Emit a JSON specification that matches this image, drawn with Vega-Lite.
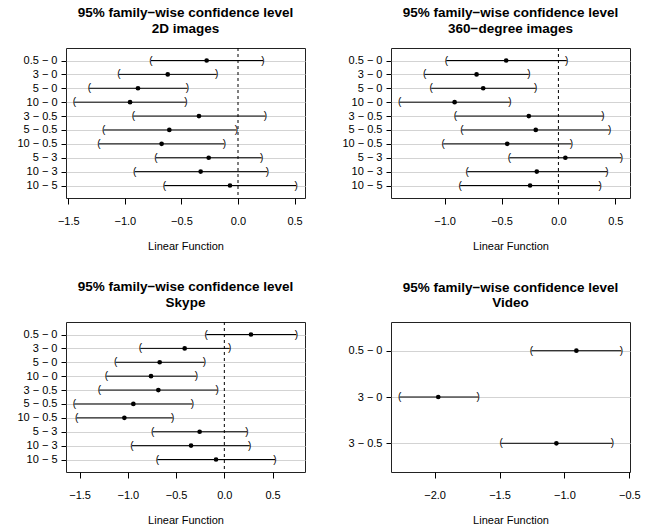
{
  "$schema": "https://vega.github.io/schema/vega-lite/v6.json",
  "padding": {"left": 16, "top": 5, "right": 5, "bottom": 5},
  "background": "white",
  "datasets": {
    "img2d": [
      {"comparison": "0.5 − 0", "diff": -0.277, "lwr": -0.769, "upr": 0.221},
      {"comparison": "3 − 0", "diff": -0.621, "lwr": -1.052, "upr": -0.189},
      {"comparison": "5 − 0", "diff": -0.884, "lwr": -1.314, "upr": -0.448},
      {"comparison": "10 − 0", "diff": -0.954, "lwr": -1.446, "upr": -0.460},
      {"comparison": "3 − 0.5", "diff": -0.345, "lwr": -0.925, "upr": 0.242},
      {"comparison": "5 − 0.5", "diff": -0.607, "lwr": -1.187, "upr": -0.015},
      {"comparison": "10 − 0.5", "diff": -0.675, "lwr": -1.228, "upr": -0.121},
      {"comparison": "5 − 3", "diff": -0.259, "lwr": -0.725, "upr": 0.209},
      {"comparison": "10 − 3", "diff": -0.330, "lwr": -0.913, "upr": 0.259},
      {"comparison": "10 − 5", "diff": -0.071, "lwr": -0.651, "upr": 0.513}
    ],
    "img360": [
      {"comparison": "0.5 − 0", "diff": -0.459, "lwr": -0.985, "upr": 0.073},
      {"comparison": "3 − 0", "diff": -0.719, "lwr": -1.175, "upr": -0.260},
      {"comparison": "5 − 0", "diff": -0.661, "lwr": -1.117, "upr": -0.199},
      {"comparison": "10 − 0", "diff": -0.912, "lwr": -1.395, "upr": -0.427},
      {"comparison": "3 − 0.5", "diff": -0.260, "lwr": -0.906, "upr": 0.392},
      {"comparison": "5 − 0.5", "diff": -0.199, "lwr": -0.848, "upr": 0.450},
      {"comparison": "10 − 0.5", "diff": -0.450, "lwr": -1.012, "upr": 0.114},
      {"comparison": "5 − 3", "diff": 0.061, "lwr": -0.430, "upr": 0.553},
      {"comparison": "10 − 3", "diff": -0.190, "lwr": -0.801, "upr": 0.427},
      {"comparison": "10 − 5", "diff": -0.249, "lwr": -0.863, "upr": 0.368}
    ],
    "skype": [
      {"comparison": "0.5 − 0", "diff": 0.276, "lwr": -0.187, "upr": 0.746},
      {"comparison": "3 − 0", "diff": -0.411, "lwr": -0.870, "upr": 0.055},
      {"comparison": "5 − 0", "diff": -0.670, "lwr": -1.126, "upr": -0.207},
      {"comparison": "10 − 0", "diff": -0.760, "lwr": -1.223, "upr": -0.290},
      {"comparison": "3 − 0.5", "diff": -0.684, "lwr": -1.295, "upr": -0.073},
      {"comparison": "5 − 0.5", "diff": -0.943, "lwr": -1.554, "upr": -0.332},
      {"comparison": "10 − 0.5", "diff": -1.036, "lwr": -1.530, "upr": -0.535},
      {"comparison": "5 − 3", "diff": -0.256, "lwr": -0.743, "upr": 0.235},
      {"comparison": "10 − 3", "diff": -0.345, "lwr": -0.957, "upr": 0.263},
      {"comparison": "10 − 5", "diff": -0.086, "lwr": -0.694, "upr": 0.525}
    ],
    "video": [
      {"comparison": "0.5 − 0", "diff": -0.908, "lwr": -1.254, "upr": -0.562},
      {"comparison": "3 − 0", "diff": -1.972, "lwr": -2.269, "upr": -1.664},
      {"comparison": "3 − 0.5", "diff": -1.062, "lwr": -1.487, "upr": -0.631}
    ],
    "zero": [{"ref": 0}]
  },
  "columns": 2,
  "spacing": {"column": 35, "row": 27},
  "concat": [
    {
      "width": 239, "height": 150,
      "title": {"text": ["95% family−wise confidence level", "2D images"]},
      "layer": [
        {
          "data": {"name": "img2d"},
          "mark": {"type": "rule", "color": "black", "strokeWidth": 1},
          "encoding": {
            "y": {"field": "comparison", "type": "nominal", "sort": null, "scale": {"type": "point", "padding": 0.9}, "title": null},
            "x": {"field": "lwr", "type": "quantitative", "scale": {"domain": [-1.52, 0.592], "nice": false, "zero": false}, "axis": {"values": [-1.5, -1.0, -0.5, 0.0, 0.5], "format": ".1f"}, "title": "Linear Function"},
            "x2": {"field": "upr"}
          }
        },
        {
          "data": {"name": "zero"},
          "mark": {"type": "rule", "color": "black", "strokeWidth": 1, "strokeDash": [3, 3]},
          "encoding": {"x": {"field": "ref", "type": "quantitative"}}
        },
        {
          "data": {"name": "img2d"},
          "mark": {"type": "text", "text": "(", "fontSize": 10, "baseline": "middle", "align": "center", "fill": "black"},
          "encoding": {"y": {"field": "comparison", "type": "nominal", "sort": null}, "x": {"field": "lwr", "type": "quantitative"}}
        },
        {
          "data": {"name": "img2d"},
          "mark": {"type": "text", "text": ")", "fontSize": 10, "baseline": "middle", "align": "center", "fill": "black"},
          "encoding": {"y": {"field": "comparison", "type": "nominal", "sort": null}, "x": {"field": "upr", "type": "quantitative"}}
        },
        {
          "data": {"name": "img2d"},
          "mark": {"type": "point", "filled": true, "color": "black", "size": 22, "opacity": 1},
          "encoding": {"y": {"field": "comparison", "type": "nominal", "sort": null}, "x": {"field": "diff", "type": "quantitative"}}
        }
      ]
    },
    {
      "width": 239, "height": 150,
      "title": {"text": ["95% family−wise confidence level", "360−degree images"]},
      "layer": [
        {
          "data": {"name": "img360"},
          "mark": {"type": "rule", "color": "black", "strokeWidth": 1},
          "encoding": {
            "y": {"field": "comparison", "type": "nominal", "sort": null, "scale": {"type": "point", "padding": 0.9}, "title": null},
            "x": {"field": "lwr", "type": "quantitative", "scale": {"domain": [-1.471, 0.629], "nice": false, "zero": false}, "axis": {"values": [-1.0, -0.5, 0.0, 0.5], "format": ".1f"}, "title": "Linear Function"},
            "x2": {"field": "upr"}
          }
        },
        {
          "data": {"name": "zero"},
          "mark": {"type": "rule", "color": "black", "strokeWidth": 1, "strokeDash": [3, 3]},
          "encoding": {"x": {"field": "ref", "type": "quantitative"}}
        },
        {
          "data": {"name": "img360"},
          "mark": {"type": "text", "text": "(", "fontSize": 10, "baseline": "middle", "align": "center", "fill": "black"},
          "encoding": {"y": {"field": "comparison", "type": "nominal", "sort": null}, "x": {"field": "lwr", "type": "quantitative"}}
        },
        {
          "data": {"name": "img360"},
          "mark": {"type": "text", "text": ")", "fontSize": 10, "baseline": "middle", "align": "center", "fill": "black"},
          "encoding": {"y": {"field": "comparison", "type": "nominal", "sort": null}, "x": {"field": "upr", "type": "quantitative"}}
        },
        {
          "data": {"name": "img360"},
          "mark": {"type": "point", "filled": true, "color": "black", "size": 22, "opacity": 1},
          "encoding": {"y": {"field": "comparison", "type": "nominal", "sort": null}, "x": {"field": "diff", "type": "quantitative"}}
        }
      ]
    },
    {
      "width": 239, "height": 150,
      "title": {"text": ["95% family−wise confidence level", "Skype"]},
      "layer": [
        {
          "data": {"name": "skype"},
          "mark": {"type": "rule", "color": "black", "strokeWidth": 1},
          "encoding": {
            "y": {"field": "comparison", "type": "nominal", "sort": null, "scale": {"type": "point", "padding": 0.9}, "title": null},
            "x": {"field": "lwr", "type": "quantitative", "scale": {"domain": [-1.641, 0.836], "nice": false, "zero": false}, "axis": {"values": [-1.5, -1.0, -0.5, 0.0, 0.5], "format": ".1f"}, "title": "Linear Function"},
            "x2": {"field": "upr"}
          }
        },
        {
          "data": {"name": "zero"},
          "mark": {"type": "rule", "color": "black", "strokeWidth": 1, "strokeDash": [3, 3]},
          "encoding": {"x": {"field": "ref", "type": "quantitative"}}
        },
        {
          "data": {"name": "skype"},
          "mark": {"type": "text", "text": "(", "fontSize": 10, "baseline": "middle", "align": "center", "fill": "black"},
          "encoding": {"y": {"field": "comparison", "type": "nominal", "sort": null}, "x": {"field": "lwr", "type": "quantitative"}}
        },
        {
          "data": {"name": "skype"},
          "mark": {"type": "text", "text": ")", "fontSize": 10, "baseline": "middle", "align": "center", "fill": "black"},
          "encoding": {"y": {"field": "comparison", "type": "nominal", "sort": null}, "x": {"field": "upr", "type": "quantitative"}}
        },
        {
          "data": {"name": "skype"},
          "mark": {"type": "point", "filled": true, "color": "black", "size": 22, "opacity": 1},
          "encoding": {"y": {"field": "comparison", "type": "nominal", "sort": null}, "x": {"field": "diff", "type": "quantitative"}}
        }
      ]
    },
    {
      "width": 239, "height": 150,
      "title": {"text": ["95% family−wise confidence level", "Video"]},
      "layer": [
        {
          "data": {"name": "video"},
          "mark": {"type": "rule", "color": "black", "strokeWidth": 1},
          "encoding": {
            "y": {"field": "comparison", "type": "nominal", "sort": null, "scale": {"type": "point", "padding": 0.62}, "title": null},
            "x": {"field": "lwr", "type": "quantitative", "scale": {"domain": [-2.336, -0.495], "nice": false, "zero": false}, "axis": {"values": [-2.0, -1.5, -1.0, -0.5], "format": ".1f"}, "title": "Linear Function"},
            "x2": {"field": "upr"}
          }
        },
        {
          "data": {"name": "video"},
          "mark": {"type": "text", "text": "(", "fontSize": 10, "baseline": "middle", "align": "center", "fill": "black"},
          "encoding": {"y": {"field": "comparison", "type": "nominal", "sort": null}, "x": {"field": "lwr", "type": "quantitative"}}
        },
        {
          "data": {"name": "video"},
          "mark": {"type": "text", "text": ")", "fontSize": 10, "baseline": "middle", "align": "center", "fill": "black"},
          "encoding": {"y": {"field": "comparison", "type": "nominal", "sort": null}, "x": {"field": "upr", "type": "quantitative"}}
        },
        {
          "data": {"name": "video"},
          "mark": {"type": "point", "filled": true, "color": "black", "size": 22, "opacity": 1},
          "encoding": {"y": {"field": "comparison", "type": "nominal", "sort": null}, "x": {"field": "diff", "type": "quantitative"}}
        }
      ]
    }
  ],
  "config": {
    "font": "Liberation Sans",
    "view": {"stroke": "#222", "strokeWidth": 1},
    "title": {"fontSize": 13.5, "fontWeight": "bold", "color": "black", "anchor": "middle", "lineHeight": 15.6, "offset": 12, "font": "Liberation Sans"},
    "axis": {"domain": false, "tickColor": "black", "tickSize": 6, "labelColor": "black", "labelFontSize": 11, "labelFont": "Liberation Sans", "titleFont": "Liberation Sans", "titleFontSize": 11, "titleFontWeight": "normal", "titleColor": "black"},
    "axisX": {"grid": false, "labelPadding": 11, "titlePadding": 14, "labelFlush": false},
    "axisY": {"grid": true, "gridColor": "#d3d3d3", "gridWidth": 1, "tickSize": 5, "labelPadding": 4}
  }
}
